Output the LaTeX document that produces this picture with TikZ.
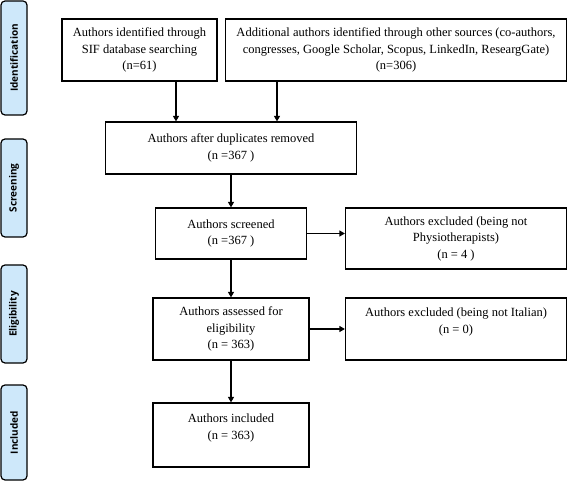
\documentclass[tikz,border=0pt]{standalone}
\usepackage{fontspec}
\setmainfont{Liberation Serif}
\newfontfamily\phasefont{Open Sans}
\usetikzlibrary{arrows.meta}
\definecolor{phaseblue}{RGB}{206,232,250}

\begin{document}
\begin{tikzpicture}[x=1pt,y=-1pt,
                    box/.style={draw,line width=1.2pt,align=center,inner sep=0pt,font=\fontsize{12.5}{16.5}\selectfont},
                    phase/.style={draw,line width=1.2pt,rounded corners=4pt,fill=phaseblue,inner sep=0pt,rotate=90,minimum height=26pt,font=\phasefont\bfseries\fontsize{10}{12}\selectfont},
                    arr/.style={line width=1.2pt,-{Triangle[length=5.5pt,width=6pt]}}]
                    \useasboundingbox (0,0) rectangle (568,481);
                    % phases on the left
                    \node[phase,minimum width=114pt] (idph) at (14,58) {Identification};
                    \node[phase,minimum width=98pt] (scrph) at (14,188) {Screening};
                    \node[phase,minimum width=98pt] (eligph) at (14,314) {Eligibility};
                    \node[phase,minimum width=95pt] (inclph) at (14,432.5) {Included};
                    % flow boxes
                    \node[box,minimum width=155pt,minimum height=62pt] (src1) at (139.5,50) {Authors identified through\\SIF database searching\\(n=61)};
                    \node[box,minimum width=341pt,minimum height=62pt] (src2) at (396,50) {Additional authors identified through other sources (co-authors,\\congresses, Google Scholar, Scopus, LinkedIn, ReseargGate)\\(n=306)};
                    \node[box,minimum width=251pt,minimum height=52pt] (dup) at (231,148) {Authors after duplicates removed\\(n =367 )};
                    \node[box,minimum width=151pt,minimum height=51pt] (scr) at (231,233.5) {Authors screened\\(n =367 )};
                    \node[box,minimum width=221pt,minimum height=61pt] (exc1) at (456,238.5) {Authors excluded (being not\\Physiotherapists)\\(n = 4 )};
                    \node[box,minimum width=156pt,minimum height=62pt] (elig) at (231,329) {Authors assessed for\\eligibility\\(n = 363)};
                    \node[box,minimum width=221pt,minimum height=62pt] (exc2) at (456,329) {Authors excluded (being not Italian)\\(n = 0)\\\mbox{}};
                    \node[box,minimum width=156pt,minimum height=64pt] (incl) at (231,435) {Authors included\\(n = 363)\\\mbox{}};
                    % arrows
                    \draw[arr] ([xshift=36.5pt]src1.south) -- ([xshift=36.5pt]src1.south |- dup.north);
                    \draw[arr] ([xshift=-119pt]src2.south) -- ([xshift=-119pt]src2.south |- dup.north);
                    \draw[arr] (dup.south) -- (scr.north);
                    \draw[arr] (scr.south) -- (elig.north);
                    \draw[arr] (elig.south) -- (incl.north);
                    \draw[arr] (scr.east) -- (scr.east -| exc1.west);
                    \draw[arr] (elig.east) -- (exc2.west);
                \end{tikzpicture}
\end{document}
